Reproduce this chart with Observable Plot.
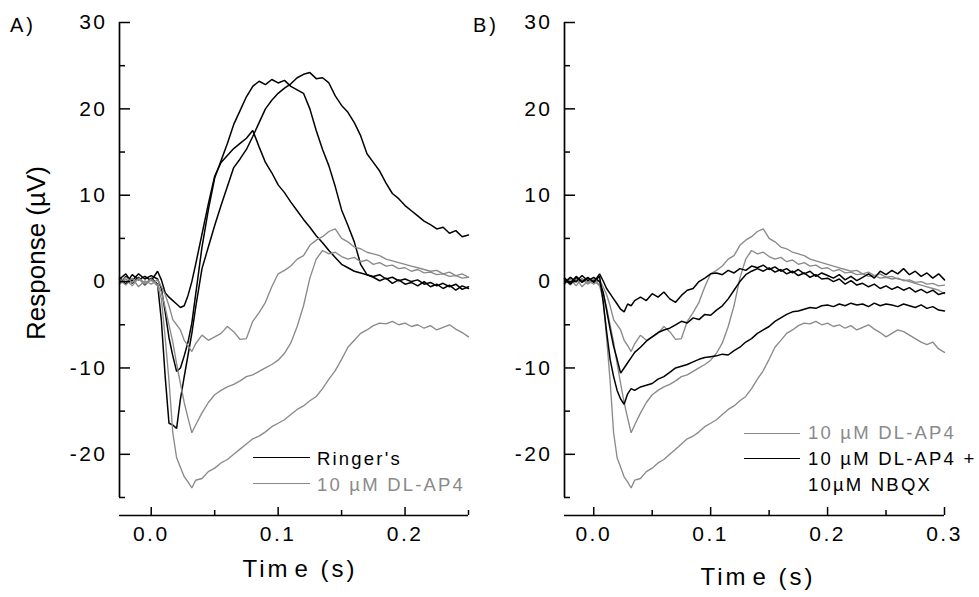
<!DOCTYPE html>
<html>
<head>
<meta charset="utf-8">
<script src="https://cdn.jsdelivr.net/npm/d3@7"></script>
<script src="https://cdn.jsdelivr.net/npm/@observablehq/plot@0.6"></script>
<style>
  html, body { margin: 0; padding: 0; background: #fff; }
  #root { position: relative; width: 979px; height: 597px; overflow: hidden; font-family: "Liberation Sans", Arial, sans-serif; }
  #root svg { position: absolute; top: 0; }
  .lbl { position: absolute; white-space: nowrap; line-height: 1; }
  .sw { position: absolute; height: 0; }
</style>
</head>
<body>
<div id="root"></div>
<script>
// ---------- data ----------
// time (s), shared by every trace
const time = [
  -0.025, -0.02, -0.015, -0.01, -0.005, 0, 0.005, 0.008, 0.011, 0.014, 0.017, 0.02, 0.023, 0.026, 0.029, 0.032, 0.035,
  0.04, 0.045, 0.05, 0.055, 0.06, 0.065, 0.07, 0.075, 0.08, 0.085, 0.09, 0.095, 0.1,
  0.105, 0.11, 0.115, 0.12, 0.125, 0.13, 0.135, 0.14, 0.145, 0.15,
  0.155, 0.16, 0.165, 0.17, 0.175, 0.18, 0.185, 0.19, 0.195, 0.2,
  0.205, 0.21, 0.215, 0.22, 0.225, 0.23, 0.235, 0.24, 0.245, 0.25,
  0.255, 0.26, 0.265, 0.27, 0.275, 0.28, 0.285, 0.29, 0.295, 0.3
];

// Ringer's (black, panel A), response in µV
const ringer1 = [
  0.5, -0.3, 0.8, 0.2, 0.6, 0.1, 1.2, 0.2, -1.3, -1.8, -2.2, -2.6, -3.0, -2.8, -1.6, 0.0, 2.0,
  5.5, 9.0, 12.2, 13.8, 14.6, 15.4, 16.0, 16.6, 17.5, 15.6, 13.8, 12.6, 11.2,
  10.3, 9.2, 8.2, 7.2, 6.3, 5.3, 4.5, 3.6, 2.8, 2.0,
  1.6, 1.2, 1.0, 0.8, 0.6, 0.8, 0.3, 0.5, 0.1, 0.3,
  0.0, 0.2, -0.3, -0.1, -0.5, -0.2, -0.6, -0.3, -0.9, -0.6
];
const ringer2 = [
  -0.2, 0.6, 0.1, 0.9, 0.3, 0.7, 0.3, -0.8, -3.5, -6.5, -8.6, -10.4, -10.0, -8.6, -7.0, -4.8, -1.5,
  4.0, 8.3, 12.0, 14.0, 16.0, 18.2, 19.8, 21.4, 22.6, 23.2, 22.8, 23.4, 23.0,
  23.3, 22.6, 22.2, 21.8, 20.0, 17.5, 15.3, 13.4, 11.0, 8.3,
  6.5, 4.6, 2.0, 0.8, 0.5, 0.1, 0.4, -0.2, 0.2, -0.3,
  -0.1, -0.5, 0.0, -0.6, -0.3, -0.8, -0.4, -1.0, -0.5, -0.8
];
const ringer3 = [
  0.3, 0.9, -0.2, 0.5, -0.4, 0.4, -0.3, -4.5, -11.0, -16.4, -16.6, -17.0, -13.6, -11.0, -8.5, -6.0, -3.0,
  1.5, 4.0, 6.5, 8.8, 11.0, 13.2, 14.2, 15.3, 16.8, 18.4, 20.0, 21.0, 21.8,
  22.4, 22.9, 23.6, 24.0, 24.2, 23.5, 23.6, 23.0, 21.5, 20.4,
  19.6, 18.4, 16.9, 14.8, 13.8, 12.8, 11.4, 10.2, 9.6, 8.8,
  8.2, 7.6, 7.0, 6.6, 6.1, 6.3, 5.6, 5.9, 5.2, 5.4
];

// 10 µM DL-AP4 (gray, both panels)
const ap4a = [
  0.2, -0.4, 0.4, -0.6, 0.1, -0.3, 0.2, -0.6, -1.5, -2.8, -4.4, -5.0, -5.6, -6.8, -7.4, -8.1, -7.2,
  -6.2, -6.8, -6.4, -6.0, -5.2, -5.8, -6.7, -6.6, -4.6, -3.6, -2.4, -0.6, 0.9,
  1.3, 1.8, 2.6, 3.0, 4.2, 4.8, 5.2, 5.8, 6.1, 5.0,
  4.6, 4.0, 3.8, 3.4, 3.2, 3.0, 2.6, 2.4, 2.2, 2.0,
  1.8, 1.6, 1.4, 1.2, 1.3, 0.9, 1.1, 0.7, 0.9, 0.5,
  0.6, 0.3, 0.2, 0.0, -0.2, -0.4, -0.6, -0.8, -1.0, -1.4
];
const ap4b = [
  -0.3, 0.3, -0.5, 0.4, -0.2, 0.3, -0.4, -1.2, -3.0, -5.0, -7.0, -9.5, -11.8, -14.0, -15.8, -17.5, -16.6,
  -15.2, -14.0, -13.1, -12.6, -12.2, -11.9, -11.5, -11.0, -10.8, -10.4, -10.0, -9.6, -9.1,
  -8.3, -7.1, -5.2, -2.8, 0.4, 2.6, 3.6, 3.2, 3.4, 2.9,
  2.6, 2.8, 2.3, 2.5, 2.0, 2.2, 1.8, 1.9, 1.5, 1.6,
  1.2, 1.4, 1.0, 1.1, 0.8, 0.9, 0.6, 0.7, 0.4, 0.5,
  0.3, 0.4, 0.1, 0.2, -0.1, 0.0, -0.3, -0.2, -0.5, -0.4
];
const ap4c = [
  0.0, 0.5, -0.1, 0.3, -0.3, 0.2, -0.5, -2.0, -6.5, -11.5, -17.5, -20.4, -21.5, -22.6, -23.2, -23.9, -23.0,
  -22.8, -22.0, -21.6, -21.0, -20.6, -20.0, -19.4, -18.8, -18.2, -17.9, -17.4, -16.8, -16.4,
  -16.0, -15.4, -14.8, -14.4, -13.8, -13.3, -12.4, -11.3, -10.3, -9.0,
  -7.6, -6.8, -6.0, -5.6, -5.1, -4.8, -4.9, -4.6, -5.0, -4.8,
  -5.2, -5.0, -5.4, -5.1, -5.6, -5.3, -5.0, -5.5, -5.9, -6.4,
  -6.0, -5.6, -5.8, -6.2, -6.6, -7.0, -7.3, -7.0, -7.8, -8.2
];

// 10 µM DL-AP4 + 10 µM NBQX (black, panel B)
const nbqx1 = [
  0.4, -0.2, 0.6, 0.0, 0.5, -0.1, 0.9, 0.1, -0.8, -1.4, -2.0, -2.6, -3.2, -3.5, -2.6, -2.8, -2.2,
  -1.8, -2.2, -1.4, -1.8, -1.2, -2.0, -2.4, -1.6, -1.0, -0.8, 0.0, 0.4, 0.9,
  1.0, 0.8, 1.3, 1.0, 1.5, 1.3, 1.8, 1.6, 1.9, 1.4,
  1.7, 1.2, 1.5, 1.0, 1.4, 0.9, 1.2, 0.6, 1.0, 0.7,
  0.4, 0.8, 0.2, 0.6, 0.1, 0.5, 0.9, 0.4, 1.2, 0.8,
  1.3, 0.9, 1.5, 0.8, 1.2, 0.6, 1.0, 0.4, 0.9, 0.2
];
const nbqx2 = [
  -0.2, 0.5, 0.0, 0.7, 0.1, 0.5, 0.0, -1.2, -3.3, -5.5, -7.5, -9.0, -10.6, -10.0, -9.4, -8.8, -8.2,
  -7.6, -6.9, -6.4, -5.9, -5.6, -5.4, -5.0, -4.6, -4.8, -4.2, -4.4, -3.8, -3.9,
  -3.3, -2.8, -2.0, -1.0, 0.0, 0.8, 1.2, 1.5, 1.2, 1.6,
  1.1, 1.4, 0.9, 1.2, 0.7, 1.0, 0.5, 0.8, 0.3, 0.4,
  0.0, 0.3, -0.3, 0.1, -0.4, -0.2, -0.6, -0.3, -0.8, -0.5,
  -0.9, -0.6, -1.0, -0.7, -1.2, -0.9, -1.3, -1.0, -1.5, -1.3
];
const nbqx3 = [
  0.3, -0.3, 0.5, -0.1, 0.4, 0.0, 0.6, -2.3, -5.8, -9.0, -11.0, -12.6, -13.6, -14.2, -13.0, -12.4, -12.6,
  -12.2, -12.0, -11.8, -11.3, -11.0, -10.5, -10.0, -9.8, -9.6, -9.3, -9.0, -8.8, -8.7,
  -8.6, -8.4, -8.5, -8.0, -7.6, -7.0, -6.6, -6.0, -5.6, -5.2,
  -4.6, -4.2, -3.8, -3.5, -3.4, -3.2, -3.0, -3.1, -2.8, -2.7,
  -2.9, -2.6, -2.8, -2.5, -2.7, -2.6, -2.9, -2.5, -2.8, -2.6,
  -2.7, -2.9, -2.6, -2.8, -3.0, -2.7, -3.1, -2.9, -3.3, -3.4
];

// axes
const yDomain = [-25, 30];
const yMajor = [-20, -10, 0, 10, 20, 30];
const yMinor = [-25, -15, -5, 5, 15, 25];
const xDomainA = [-0.025, 0.25];
const xMajorA = [0, 0.1, 0.2];
const xMinorA = [0.05, 0.15, 0.25];
const xDomainB = [-0.025, 0.3];
const xMajorB = [0, 0.1, 0.2, 0.3];
const xMinorB = [0.05, 0.15, 0.25];

// labels
const panelLabels = ["A)", "B)"];
const yTitle = "Response (µV)";
const legendA = ["Ringer's", "10 µM DL-AP4"];
const legendB = ["10 µM DL-AP4", "10 µM DL-AP4 +", "10µM NBQX"];

// ---------- drawing ----------
const BLACK = "#000000";
const GRAY = "#8a8a8a";
const FONT = '"Liberation Sans", Arial, Helvetica, sans-serif';
const root = document.getElementById("root");

function rows(values, xMax) {
  const n = Math.min(values.length, time.length);
  const out = [];
  for (let i = 0; i < n; i++) if (time[i] <= xMax + 1e-9) out.push({t: time[i], v: values[i]});
  return out;
}

function panel({left, width, marginLeft, marginRight, xDomain, xMajor, xMinor, traces}) {
  const H = 540, top = 22, bottom = 515;
  const frameW = width - marginLeft - marginRight;
  const frameH = bottom - top;
  const svg = Plot.plot({
    width, height: H,
    marginTop: top, marginBottom: H - bottom, marginLeft, marginRight,
    x: {domain: xDomain},
    y: {domain: yDomain, range: [497, 22]},
    style: {background: "transparent", fontFamily: FONT, fontSize: "21px", letterSpacing: "2.5px", color: "#000", overflow: "visible"},
    marks: [
      ...traces.map(tr => Plot.line(rows(tr.values, xDomain[1]), {x: "t", y: "v", stroke: tr.color, strokeWidth: tr.color === BLACK ? 1.5 : 1.35, strokeLinejoin: "miter"})),
      Plot.ruleX([xDomain[0]], {y1: yDomain[0], y2: yDomain[1], strokeWidth: 1.7}),
      Plot.ruleY([yDomain[0]], {x1: xDomain[0], x2: xDomain[1], dy: 18, strokeWidth: 1.7}),
      Plot.ruleY(yMajor, {y: d => d, insetRight: frameW - 11, strokeWidth: 1.5}),
      Plot.ruleY(yMinor, {y: d => d, insetRight: frameW - 6, strokeWidth: 1.5}),
      Plot.ruleX(xMajor, {x: d => d, insetTop: frameH - 8, strokeWidth: 1.5}),
      Plot.ruleX(xMinor, {x: d => d, insetTop: frameH - 5, strokeWidth: 1.5}),
      Plot.axisY({ticks: yMajor, tickSize: 0, tickPadding: 12, tickFormat: d => String(d), label: null}),
      Plot.axisX({ticks: xMajor, tickSize: 0, tickPadding: 11, tickFormat: d => d.toFixed(1), label: null})
    ]
  });
  svg.style.left = left + "px";
  root.appendChild(svg);
}

panel({
  left: 0, width: 472, marginLeft: 119, marginRight: 4,
  xDomain: xDomainA, xMajor: xMajorA, xMinor: xMinorA,
  traces: [
    {values: ringer1, color: BLACK}, {values: ringer2, color: BLACK}, {values: ringer3, color: BLACK},
    {values: ap4a, color: GRAY}, {values: ap4b, color: GRAY}, {values: ap4c, color: GRAY}
  ]
});
panel({
  left: 472, width: 507, marginLeft: 92, marginRight: 35,
  xDomain: xDomainB, xMajor: xMajorB, xMinor: xMinorB,
  traces: [
    {values: ap4a, color: GRAY}, {values: ap4b, color: GRAY}, {values: ap4c, color: GRAY},
    {values: nbqx1, color: BLACK}, {values: nbqx2, color: BLACK}, {values: nbqx3, color: BLACK}
  ]
});

// text helpers (baseline-positioned, line-height 1 => baseline at 0.8465em)
function label(html, {x, baseline, size, color = "#000", spacing = 0, center = false}) {
  const d = document.createElement("div");
  d.className = "lbl";
  d.innerHTML = html;
  d.style.left = x + "px";
  d.style.top = (baseline - 0.8465 * size) + "px";
  d.style.fontSize = size + "px";
  d.style.color = color;
  d.style.letterSpacing = spacing + "px";
  if (center) d.style.transform = "translateX(-50%)";
  root.appendChild(d);
  return d;
}
function swatch(x, y, w, color, sw) {
  const d = document.createElement("div");
  d.className = "sw";
  d.style.left = x + "px";
  d.style.top = (y - sw / 2) + "px";
  d.style.width = w + "px";
  d.style.borderTop = sw + "px solid " + color;
  root.appendChild(d);
}

label(panelLabels[0], {x: 10, baseline: 32, size: 20, spacing: 3});
label(panelLabels[1], {x: 473, baseline: 32, size: 20, spacing: 3});

// y title (rotated)
const yt = document.createElement("div");
yt.className = "lbl";
yt.textContent = yTitle;
yt.style.fontSize = "26px";
yt.style.left = "36px";
yt.style.top = "253px";
yt.style.transform = "translate(-50%, -50%) rotate(-90deg)";
root.appendChild(yt);

const timeHtml = 'Tim<span style="margin-left:4px">e</span> (s)';
label(timeHtml, {x: 300, baseline: 577, size: 24, spacing: 3, center: true});
label(timeHtml, {x: 758, baseline: 585, size: 24, spacing: 3, center: true});

// legend A
swatch(253, 458, 57, BLACK, 1.3);
label(legendA[0], {x: 317, baseline: 465.5, size: 18.5, spacing: 2.2});
swatch(253, 484, 57, GRAY, 1.3);
label(legendA[1], {x: 317, baseline: 491.5, size: 18.5, spacing: 2.2, color: GRAY});

// legend B
swatch(744, 434, 56, GRAY, 1.3);
label(legendB[0], {x: 808, baseline: 440, size: 18.5, spacing: 2.2, color: GRAY});
swatch(744, 459, 56, BLACK, 1.3);
label(legendB[1], {x: 808, baseline: 466, size: 18.5, spacing: 2.2});
label(legendB[2], {x: 808, baseline: 492, size: 18.5, spacing: 2.2});
</script>
</body>
</html>
